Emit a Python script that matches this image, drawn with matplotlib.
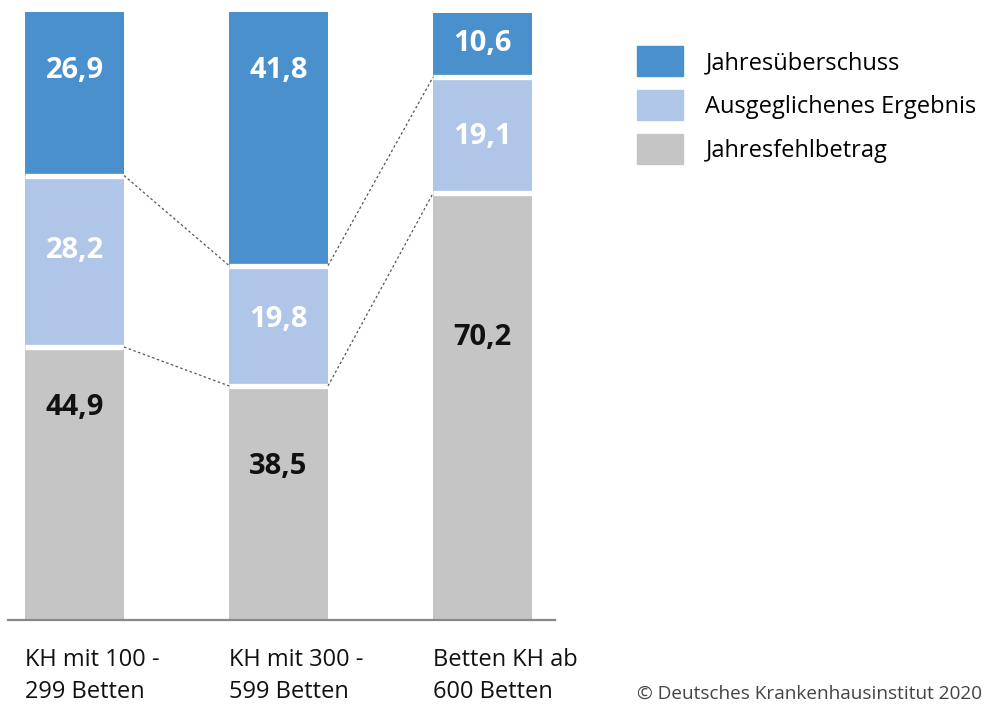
import matplotlib.pyplot as plt
from matplotlib.patches import Patch
import numpy as np

plt.rcParams['font.family'] = ['Open Sans', 'DejaVu Sans']

categories = ['KH mit 100 -\n299 Betten', 'KH mit 300 -\n599 Betten', 'Betten KH ab\n600 Betten']
series = ['Jahresfehlbetrag', 'Ausgeglichenes Ergebnis', 'Jahresüberschuss']
fehlbetrag = [44.9, 38.5, 70.2]
ausgeglichen = [28.2, 19.8, 19.1]
ueberschuss = [26.9, 41.8, 10.6]
colors = ['#c5c5c5', '#b0c6e8', '#4a90cd']
label_colors = ['#111111', 'white', 'white']

# where the value labels sit inside each segment (in % units)
label_y = [[34.9, 25.3, 46.4],
           [60.8, 49.5, 79.6],
           [90.3, 90.3, 94.9]]

fig = plt.figure(figsize=(9.86, 7.04), dpi=100)
ax = fig.add_axes([8 / 986, 84 / 704, 547 / 986, 608 / 704])

x = np.arange(len(categories))
w = 0.485
data = [fehlbetrag, ausgeglichen, ueberschuss]
bottom = np.zeros(len(categories))
for vals, c in zip(data, colors):
    ax.bar(x, vals, w, bottom=bottom, color=c, linewidth=0)
    bottom = bottom + np.array(vals)

# white gaps between stacked segments
cum = np.cumsum(data, axis=0)
for k in range(2):
    for i in x:
        ax.plot([i - w / 2, i + w / 2], [cum[k][i], cum[k][i]], color='white', lw=3.8,
                solid_capstyle='butt')

# dotted connectors between neighbouring bars
for k in range(2):
    for i in range(len(categories) - 1):
        ax.plot([i + w / 2, i + 1 - w / 2], [cum[k][i], cum[k][i + 1]],
                color='#555555', lw=0.9, ls=(0, (2, 2)))

for k, vals in enumerate(data):
    for i, v in enumerate(vals):
        ax.text(i, label_y[k][i], f'{v:.1f}'.replace('.', ','), ha='center', va='center',
                fontsize=21, fontweight='bold', color=label_colors[k])

for i, cat in enumerate(categories):
    ax.text(i - w / 2, -0.046, cat, transform=ax.get_xaxis_transform(), ha='left', va='top',
            fontsize=17, linespacing=1.42, color='#111111')

ax.set_xlim(-0.326, 2.355)
ax.set_ylim(0, 100)
for s in ['top', 'right', 'left']:
    ax.spines[s].set_visible(False)
ax.spines['bottom'].set_color('#888888')
ax.spines['bottom'].set_linewidth(1.6)
ax.set_xticks([])
ax.set_yticks([])

handles = [Patch(color=c, label=s) for c, s in zip(colors, series)][::-1]
fig.legend(handles=handles, loc='upper left', bbox_to_anchor=(637 / 986, 1 - 46 / 704),
           frameon=False, fontsize=17, handlelength=1.95, handleheight=1.6,
           labelspacing=0.58, handletextpad=0.95, borderpad=0, borderaxespad=0)

fig.text(982 / 986, 1 - 694 / 704, '© Deutsches Krankenhausinstitut 2020', ha='right',
         va='center', fontsize=13.7, color='#444444')

fig.savefig('out.png', dpi=100)
